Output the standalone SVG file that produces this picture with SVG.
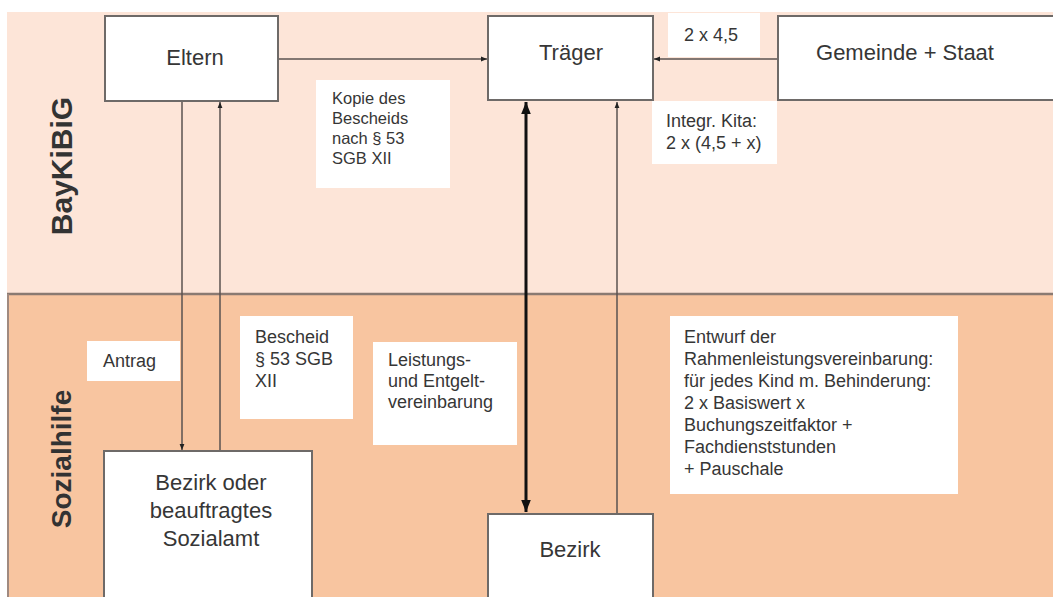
<svg xmlns="http://www.w3.org/2000/svg" width="1053" height="597" viewBox="0 0 1053 597">
<defs>
<style>
.box{fill:#ffffff;stroke:#6e6a68;stroke-width:2}
.lbl{fill:#ffffff}
.t{font-family:"Liberation Sans",Arial,sans-serif;fill:#363636}
.big{font-size:22px}
.sm{font-size:16.5px}
.md{font-size:18px}
.side{font-family:"Liberation Sans",Arial,sans-serif;font-weight:bold;fill:#333333}
.ln{stroke:#5a5250;stroke-width:1.5;fill:none}
.thick{stroke:#111111;stroke-width:3;fill:none}
</style>
<marker id="ah" viewBox="0 0 10 10" refX="10" refY="5" markerWidth="6" markerHeight="6" orient="auto-start-reverse" markerUnits="userSpaceOnUse">
<path d="M0,1 L10,5 L0,9 z" fill="#222"/>
</marker>
<marker id="ahb" viewBox="0 0 10 10" refX="10" refY="5" markerWidth="12" markerHeight="12" orient="auto-start-reverse" markerUnits="userSpaceOnUse">
<path d="M0,1 L10,5 L0,9 z" fill="#111"/>
</marker>
</defs>
<rect x="0" y="0" width="1053" height="597" fill="#ffffff"/>
<g id="bands">
<rect x="7" y="12" width="1046" height="282" fill="#fde5d8"/>
<rect x="7" y="294" width="1046" height="303" fill="#f8c5a0"/>
<line x1="7" y1="294" x2="1053" y2="294" stroke="#8a7a72" stroke-width="2.5"/>
<line x1="8" y1="294" x2="8" y2="597" stroke="#a08a80" stroke-width="2"/>
<text class="side" font-size="30" transform="translate(72,166) rotate(-90)" text-anchor="middle">BayKiBiG</text>
<text class="side" font-size="28" transform="translate(71,459) rotate(-90)" text-anchor="middle">Sozialhilfe</text>
</g>
<g id="connectors">
<line class="ln" x1="278" y1="59" x2="487" y2="59" marker-end="url(#ah)"/>
<line class="ln" x1="778" y1="59" x2="654" y2="59" marker-end="url(#ah)"/>
<line class="ln" x1="182" y1="101" x2="182" y2="450" marker-end="url(#ah)"/>
<line class="ln" x1="220" y1="451" x2="220" y2="102" marker-end="url(#ah)"/>
<line class="thick" x1="526" y1="102" x2="526" y2="512" marker-start="url(#ahb)" marker-end="url(#ahb)"/>
<line class="ln" x1="617" y1="513" x2="617" y2="102" marker-end="url(#ah)"/>
</g>
<g id="eltern">
<rect class="box" x="105" y="16" width="173" height="85"/>
<text class="t big" x="195" y="65" text-anchor="middle">Eltern</text>
</g>
<g id="traeger">
<rect class="box" x="488" y="16" width="165" height="84"/>
<text class="t big" x="571" y="60" text-anchor="middle">Träger</text>
</g>
<g id="gemeinde">
<rect class="box" x="778" y="16" width="285" height="84"/>
<text class="t big" x="905" y="60" text-anchor="middle">Gemeinde + Staat</text>
</g>
<g id="bezirk-oder">
<rect class="box" x="104" y="451" width="208" height="156"/>
<text class="t big" x="211" y="490" text-anchor="middle">Bezirk oder</text>
<text class="t big" x="211" y="518" text-anchor="middle">beauftragtes</text>
<text class="t big" x="211" y="546" text-anchor="middle">Sozialamt</text>
</g>
<g id="bezirk">
<rect class="box" x="488" y="514" width="165" height="93"/>
<text class="t big" x="570" y="557" text-anchor="middle">Bezirk</text>
</g>
<g id="label-2x45">
<rect class="lbl" x="668" y="13" width="92" height="44"/>
<text class="t md" x="711" y="41" text-anchor="middle">2 x 4,5</text>
</g>
<g id="label-integr">
<rect class="lbl" x="652" y="101" width="125" height="63"/>
<text class="t md" x="666" y="127">Integr. Kita:</text>
<text class="t md" x="666" y="149">2 x (4,5 + x)</text>
</g>
<g id="label-kopie">
<rect class="lbl" x="316" y="80" width="134" height="108"/>
<text class="t sm" x="332" y="104">Kopie des</text>
<text class="t sm" x="332" y="124">Bescheids</text>
<text class="t sm" x="332" y="144">nach § 53</text>
<text class="t sm" x="332" y="164">SGB XII</text>
</g>
<g id="label-antrag">
<rect class="lbl" x="87" y="341" width="93" height="40"/>
<text class="t md" x="103" y="367">Antrag</text>
</g>
<g id="label-bescheid">
<rect class="lbl" x="240" y="316" width="113" height="103"/>
<text class="t md" x="255" y="343">Bescheid</text>
<text class="t md" x="255" y="365">§ 53 SGB</text>
<text class="t md" x="255" y="387">XII</text>
</g>
<g id="label-leistung">
<rect class="lbl" x="373" y="342" width="144" height="103"/>
<text class="t md" x="388" y="366">Leistungs-</text>
<text class="t md" x="388" y="387">und Entgelt-</text>
<text class="t md" x="388" y="408">vereinbarung</text>
</g>
<g id="label-entwurf">
<rect class="lbl" x="670" y="316" width="288" height="178"/>
<text class="t md" x="684" y="343">Entwurf der</text>
<text class="t md" x="684" y="365">Rahmenleistungsvereinbarung:</text>
<text class="t md" x="684" y="387">für jedes Kind m. Behinderung:</text>
<text class="t md" x="684" y="409">2 x Basiswert x</text>
<text class="t md" x="684" y="431">Buchungszeitfaktor +</text>
<text class="t md" x="684" y="453">Fachdienststunden</text>
<text class="t md" x="684" y="475">+ Pauschale</text>
</g>
</svg>
